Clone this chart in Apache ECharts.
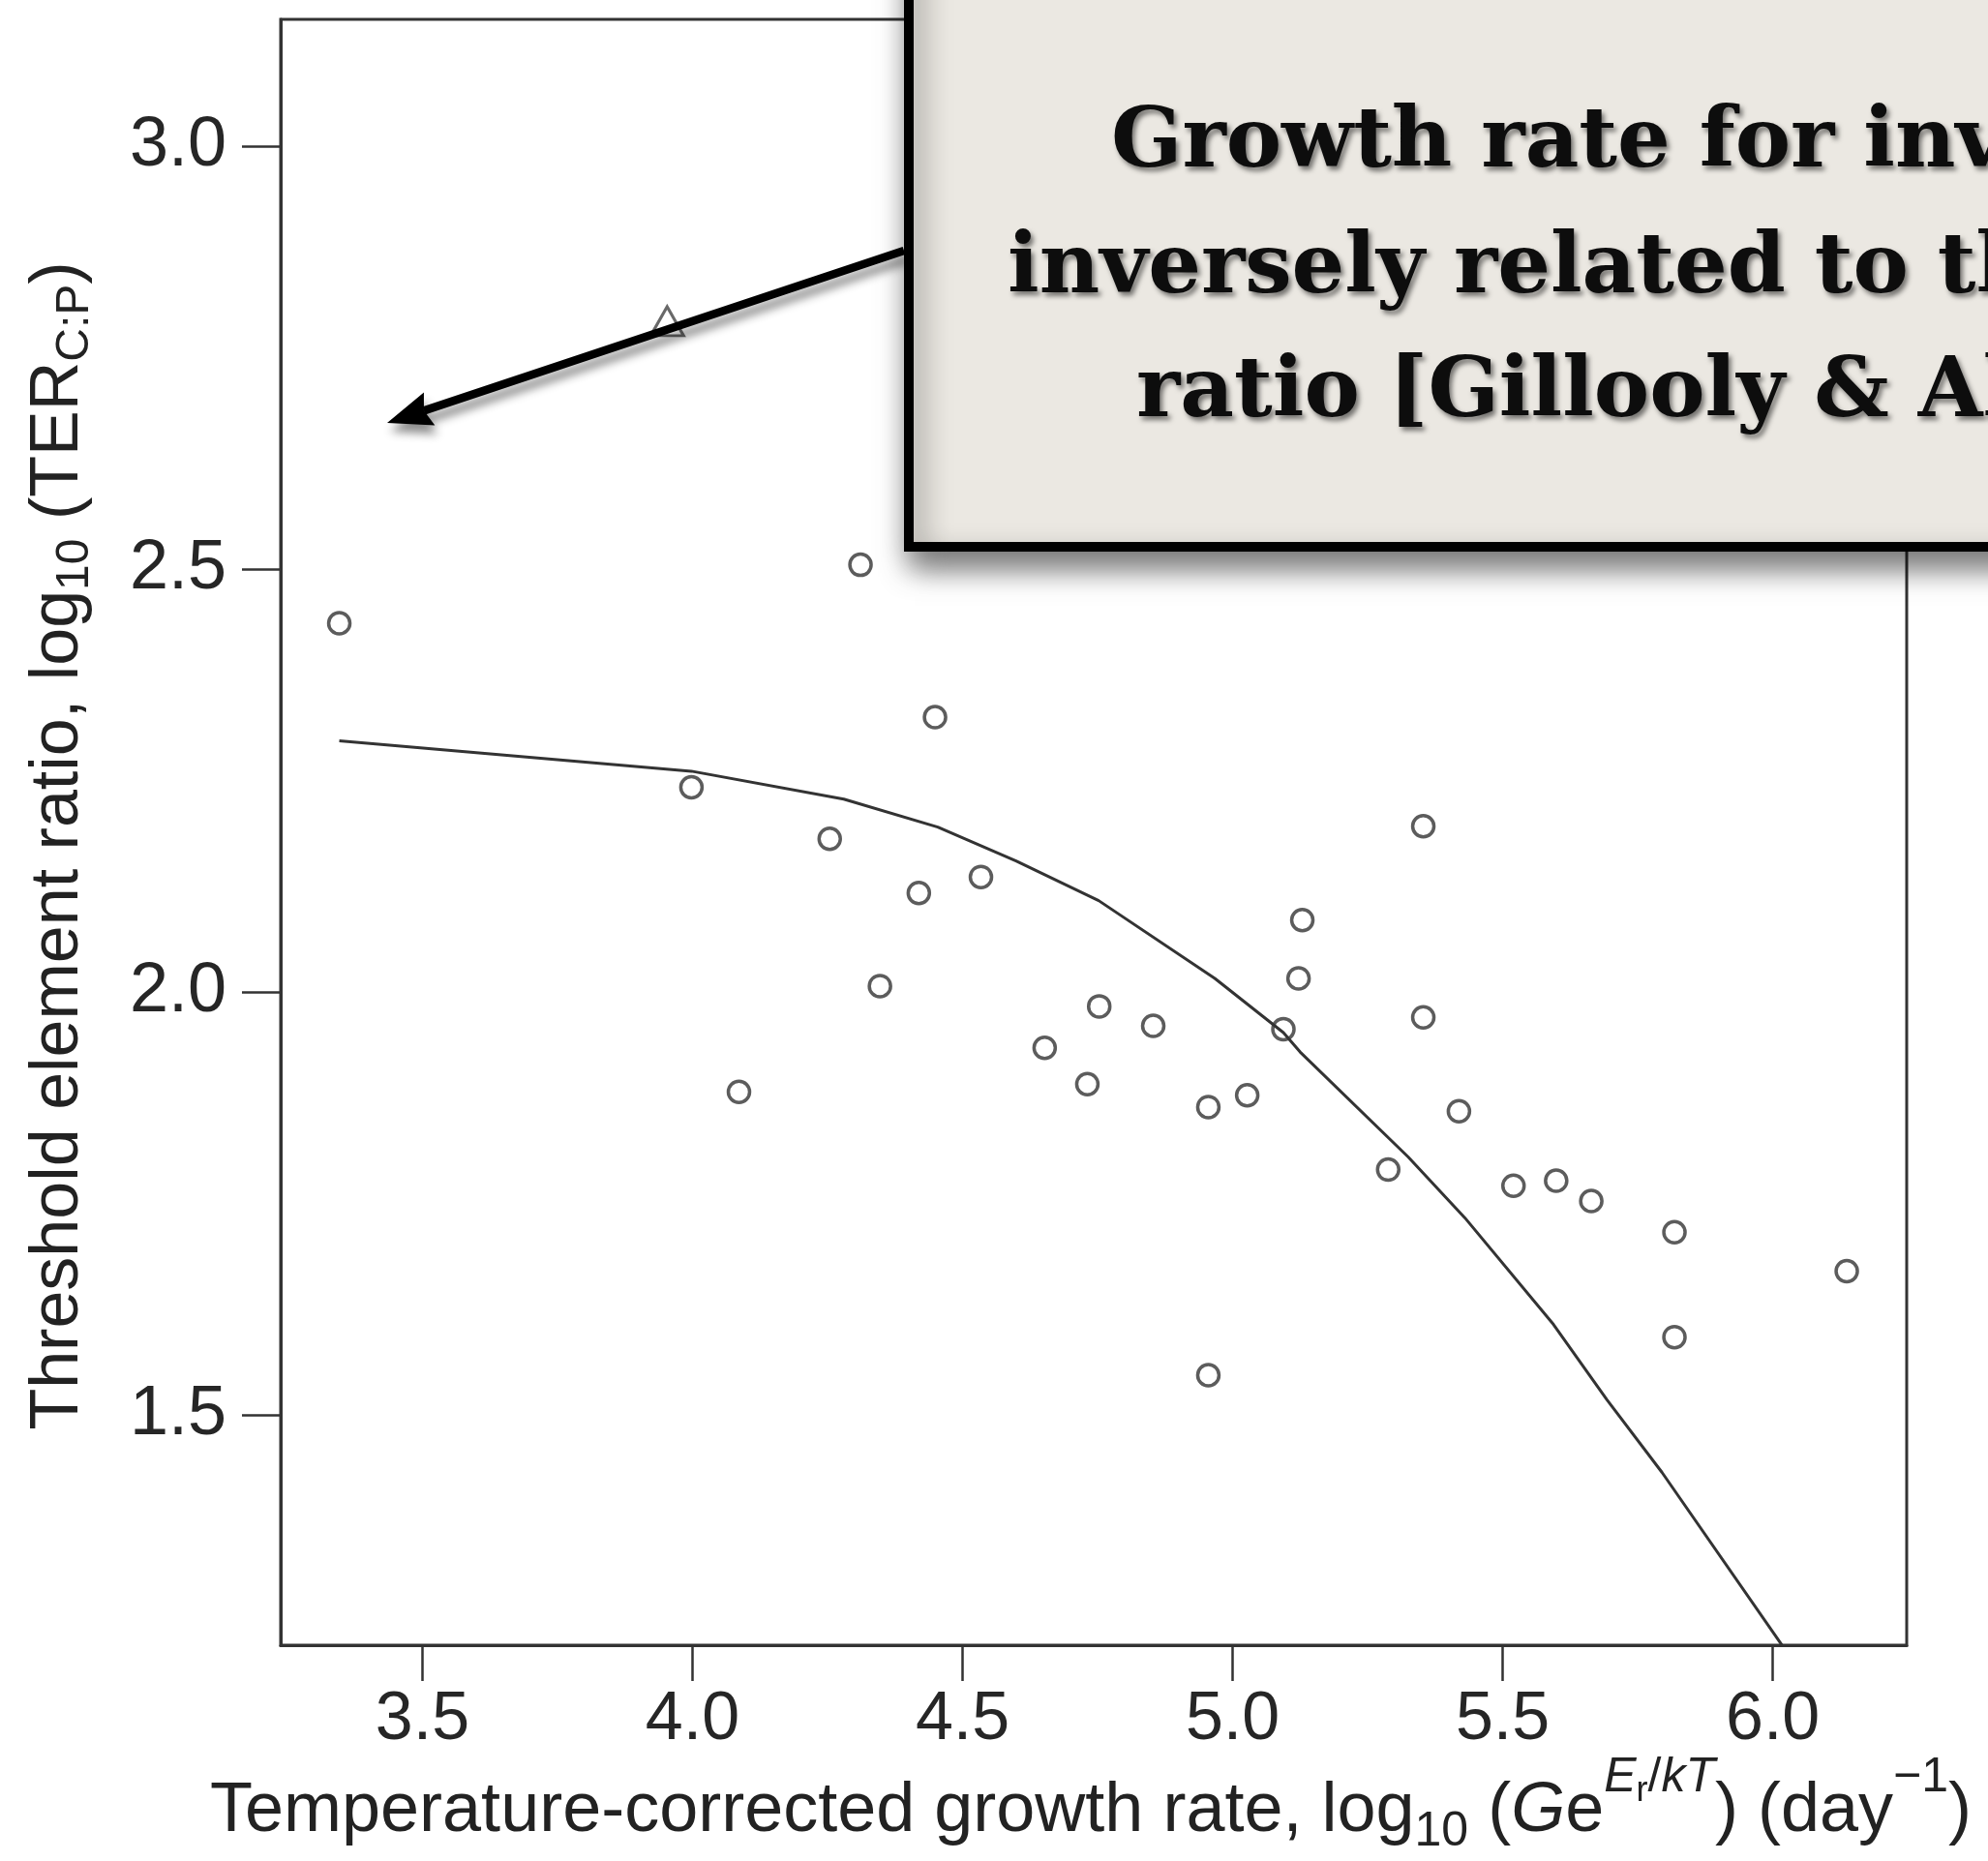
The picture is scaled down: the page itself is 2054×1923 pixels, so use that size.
<!DOCTYPE html>
<html>
<head>
<meta charset="utf-8">
<style>
  html, body { margin: 0; padding: 0; background: #ffffff; }
  #chart { width: 2054px; height: 1923px; }
</style>
<script src="https://cdn.jsdelivr.net/npm/echarts@6/dist/echarts.min.js"></script>
</head>
<body>
<div id="chart"></div>
<script>
// Tick positions on both axes
const xTickValues = [3.5, 4.0, 4.5, 5.0, 5.5, 6.0];
const yTickValues = [1.5, 2.0, 2.5, 3.0];

// Observations: temperature-corrected growth rate vs threshold C:P ratio
const growthRate = [3.346, 4.311, 4.449, 3.998, 4.254, 4.534, 4.419, 4.347, 4.086, 4.753,
                    4.853, 4.652, 4.731, 4.955, 5.027, 5.094, 5.122, 5.129, 5.353, 5.353,
                    5.419, 5.288, 5.520, 5.599, 5.664, 5.818, 5.818, 6.137, 4.955];
const terCP      = [2.436, 2.505, 2.325, 2.242, 2.181, 2.136, 2.117, 2.007, 1.882, 1.983,
                    1.960, 1.934, 1.891, 1.864, 1.878, 1.956, 2.016, 2.085, 2.196, 1.970,
                    1.859, 1.790, 1.771, 1.777, 1.753, 1.716, 1.592, 1.670, 1.547];

// Single triangle observation
const triangleGrowth = [3.953];
const triangleTER = [2.793];

// Model prediction curve
const fitGrowth = [3.346, 3.998, 4.280, 4.454, 4.599, 4.752, 4.967, 5.094, 5.125, 5.325,
                   5.430, 5.594, 5.693, 5.795, 6.017];
const fitTER    = [2.297, 2.261, 2.228, 2.195, 2.155, 2.108, 2.016, 1.952, 1.929, 1.805,
                   1.733, 1.607, 1.518, 1.432, 1.228];

// Callout text
const calloutLines = [
  'Growth rate for invertebrates is',
  'inversely related to their C:P',
  'ratio [Gillooly & Allen 2009]'
];

const sans = "'Liberation Sans', Arial, Helvetica, sans-serif";
const serif = "'DejaVu Serif', serif";
const ink = '#222222';

const pairs = (xs, ys) => xs.map((x, i) => [x, ys[i]]);

const chart = echarts.init(document.getElementById('chart'), null, { renderer: 'canvas' });

// Layout of the annotation
const boxLeft = 939, boxBottom = 565;
const arrowStart = [934, 259];
const arrowTip = [400, 437];
const lineX = [1148, 1041, 1174];
const lineY = [150, 280, 408];

function arrowHead(start, tip, len, half, notch) {
  const dx = tip[0] - start[0], dy = tip[1] - start[1];
  const L = Math.hypot(dx, dy);
  const ux = dx / L, uy = dy / L;
  const nx = -uy, ny = ux;
  return [
    tip,
    [tip[0] - len * ux + half * nx, tip[1] - len * uy + half * ny],
    [tip[0] - notch * ux, tip[1] - notch * uy],
    [tip[0] - len * ux - half * nx, tip[1] - len * uy - half * ny]
  ];
}
const headLen = 46, headHalf = 18, headNotch = 40;
const head = arrowHead(arrowStart, arrowTip, headLen, headHalf, headNotch);
const shaftLen = Math.hypot(arrowStart[0] - arrowTip[0], arrowStart[1] - arrowTip[1]);
const shaftEnd = [arrowTip[0] + (arrowStart[0] - arrowTip[0]) * headNotch / shaftLen,
                  arrowTip[1] + (arrowStart[1] - arrowTip[1]) * headNotch / shaftLen];

const xTitleRich = {
  m:  { fontSize: 72, lineHeight: 120, fontFamily: sans, fill: ink, verticalAlign: 'middle' },
  mi: { fontSize: 72, lineHeight: 120, fontFamily: sans, fill: ink, fontStyle: 'italic', verticalAlign: 'middle' },
  s:  { fontSize: 50, lineHeight: 50, fontFamily: sans, fill: ink, verticalAlign: 'bottom', padding: [0, 0, 14, 0] },
  u:  { fontSize: 50, lineHeight: 50, fontFamily: sans, fill: ink, verticalAlign: 'top', padding: [0, 0, 0, 0] },
  ui: { fontSize: 50, lineHeight: 50, fontFamily: sans, fill: ink, fontStyle: 'italic', verticalAlign: 'top', padding: [0, 0, 0, 0] },
  r:  { fontSize: 36, lineHeight: 36, fontFamily: sans, fill: ink, verticalAlign: 'top', padding: [21, 0, 0, 0] }
};

const yTitleRich = {
  m: { fontSize: 70, lineHeight: 110, fontFamily: sans, fill: ink, verticalAlign: 'middle' },
  s: { fontSize: 48, lineHeight: 48, fontFamily: sans, fill: ink, verticalAlign: 'bottom', padding: [0, 0, 14, 0] }
};

const option = {
  backgroundColor: '#ffffff',
  animation: false,
  grid: {
    left: 290, right: 84, top: 20, bottom: 223,
    show: true, borderColor: '#333', borderWidth: 3,
    containLabel: false, outerBoundsMode: 'none'
  },
  xAxis: {
    type: 'value',
    min: 3.2375, max: 6.248,
    axisLine: { show: true, onZero: false, lineStyle: { color: '#333', width: 3 } },
    axisTick: { show: true, inside: false, length: 37, customValues: xTickValues, lineStyle: { color: '#333', width: 2.5 } },
    axisLabel: {
      show: true, customValues: xTickValues, margin: 78, verticalAlign: 'middle',
      formatter: v => v.toFixed(1), fontSize: 70, fontFamily: sans, color: '#262626'
    },
    splitLine: { show: false }
  },
  yAxis: {
    type: 'value',
    min: 1.2278, max: 3.1498,
    axisLine: { show: true, onZero: false, lineStyle: { color: '#333', width: 3 } },
    axisTick: { show: true, inside: false, length: 40, customValues: yTickValues, lineStyle: { color: '#333', width: 2.5 } },
    axisLabel: {
      show: true, customValues: yTickValues, margin: 56,
      formatter: v => v.toFixed(1), fontSize: 72, fontFamily: sans, color: '#262626'
    },
    splitLine: { show: false }
  },
  series: [
    {
      name: 'fit', type: 'line', data: pairs(fitGrowth, fitTER),
      showSymbol: false, smooth: false, clip: true, z: 3,
      lineStyle: { color: '#333', width: 3 }
    },
    {
      name: 'observed', type: 'scatter', data: pairs(growthRate, terCP),
      symbol: 'circle', symbolSize: 22, z: 4,
      itemStyle: { color: 'rgba(255,255,255,0)', borderColor: '#333', borderWidth: 3.5 }
    },
    {
      name: 'triangle', type: 'scatter', data: pairs(triangleGrowth, triangleTER),
      symbol: 'triangle', symbolSize: [34, 30], z: 4,
      itemStyle: { color: 'rgba(255,255,255,0)', borderColor: '#444', borderWidth: 3 }
    }
  ],
  graphic: [
    // axis titles
    {
      type: 'text', x: 1127, y: 1872, z: 50,
      style: {
        text: '{m|Temperature-corrected growth rate, log}{s|10}{m| (}{mi|G}{m|e}{ui|E}{r|r}{u|/}{ui|kT}{m|) (day}{u|\u22121}{m|)}',
        rich: xTitleRich, align: 'center', verticalAlign: 'middle', fill: ink
      }
    },
    {
      type: 'text', x: 61, y: 874, rotation: Math.PI / 2, z: 50,
      style: {
        text: '{m|Threshold element ratio, log}{s|10}{m| (TER}{s|C:P}{m|)}',
        rich: yTitleRich, align: 'center', verticalAlign: 'middle', fill: ink
      }
    },
    // arrow
    {
      type: 'line', z: 90,
      shape: { x1: arrowStart[0], y1: arrowStart[1], x2: shaftEnd[0], y2: shaftEnd[1] },
      style: { stroke: '#000', lineWidth: 8.5, shadowBlur: 10, shadowOffsetX: 3, shadowOffsetY: 9, shadowColor: 'rgba(0,0,0,0.45)' }
    },
    {
      type: 'polygon', z: 90,
      shape: { points: head },
      style: { fill: '#000', shadowBlur: 10, shadowOffsetX: 3, shadowOffsetY: 9, shadowColor: 'rgba(0,0,0,0.45)' }
    },
    // callout box
    {
      type: 'rect', z: 100,
      shape: { x: boxLeft, y: -60, width: 1400, height: boxBottom + 60 },
      style: { fill: '#ebe8e2', stroke: '#000', lineWidth: 10, shadowBlur: 30, shadowOffsetX: 6, shadowOffsetY: 16, shadowColor: 'rgba(0,0,0,0.55)' }
    },
    ...calloutLines.map((t, i) => ({
      type: 'text', x: lineX[i], y: lineY[i], z: 101,
      style: {
        text: t, fontFamily: serif, fontSize: 86, fontWeight: 'bold', fill: '#0d0d0d',
        align: 'left', verticalAlign: 'middle',
        textShadowColor: 'rgba(0,0,0,0.5)', textShadowBlur: 5, textShadowOffsetX: 3, textShadowOffsetY: 4
      }
    }))
  ]
};

chart.setOption(option);
</script>
</body>
</html>
